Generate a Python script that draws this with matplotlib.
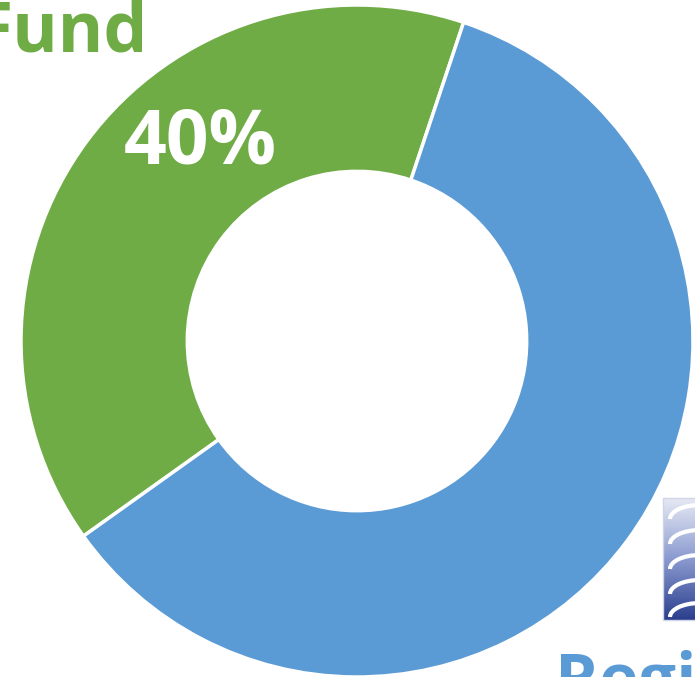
import numpy as np
import matplotlib.pyplot as plt
from matplotlib.patches import Rectangle, Arc
from matplotlib.colors import LinearSegmentedColormap

plt.rcParams['font.family'] = ['Open Sans', 'DejaVu Sans']

labels = ['Fund', 'Region']
shares = [40, 60]
colors = ['#6FAC46', '#5B9BD5']

W, H = 695, 677
fig = plt.figure(figsize=(W / 100, H / 100), dpi=100)
ax = fig.add_axes([0, 0, 1, 1])
ax.set_xlim(0, W)
ax.set_ylim(0, H)
ax.set_aspect('equal')
ax.axis('off')

cx, cy = 357, H - 341
r_out = 336
ax.pie(shares, colors=colors, startangle=71.5, counterclock=True,
       center=(cx, cy), radius=r_out,
       wedgeprops=dict(width=r_out * 0.495, edgecolor='white', linewidth=2.5))

# labels
ax.text(148, H - 52, labels[0], color=colors[0], fontsize=50, fontweight='bold',
        ha='right', va='baseline')
ax.text(200, H - 144, '%d%%' % shares[0], color='white', fontsize=54,
        fontweight='bold', ha='center', va='center')
ax.text(555, H - 701, labels[1], color=colors[1], fontsize=48,
        fontweight='bold', ha='left', va='baseline')

# small logo at the right edge
logo_cmap = LinearSegmentedColormap.from_list('logo', ['#e6e9f3', '#8a9ad0', '#2b3f8e'])
grad = np.linspace(0, 1, 100).reshape(-1, 1)
ax.imshow(grad, extent=(663, 700, H - 620, H - 498), cmap=logo_cmap,
          aspect='auto', zorder=3)
for yy in [505, 530, 555, 580, 603]:
    ax.add_patch(Arc((700, H - yy - 14), 60, 28, theta1=90, theta2=180,
                     color='white', lw=3, zorder=4))
ax.add_patch(Rectangle((663, H - 620), 40, 122, fill=False,
                       edgecolor='#d0d6e6', lw=1, zorder=5))
ax.set_xlim(0, W)
ax.set_ylim(0, H)

fig.savefig('out.png', dpi=100, facecolor='white')
